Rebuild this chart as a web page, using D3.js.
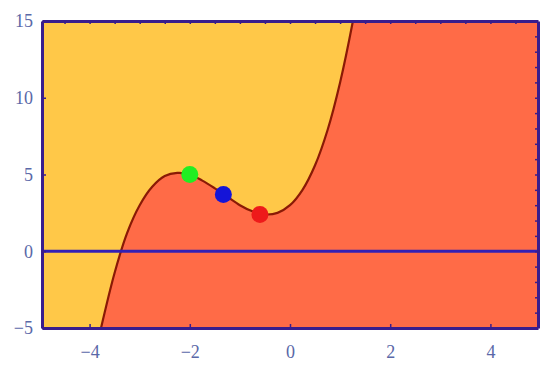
<!DOCTYPE html>
<html>
<head>
<meta charset="utf-8">
<script src="https://cdn.jsdelivr.net/npm/d3@7"></script>
<style>
  body { margin: 0; background: #fff; }
  .axis path, .axis line { stroke: #3a1d8c; }
</style>
</head>
<body>
<svg id="chart" width="541" height="368"></svg>
<script>
// curve samples
const curveX = [-3.8, -3.5, -3.25, -3, -2.75, -2.5, -2.25, -2, -1.75, -1.5, -1.25, -1, -0.75, -0.5, -0.25, 0, 0.25, 0.5, 0.75, 1, 1.25, 1.32];
const curveY = [-5.4, -1.4, 1.2, 3, 4.2, 4.9, 5.1, 5, 4.6, 4.1, 3.55, 3, 2.6, 2.4, 2.5, 3, 4, 5.6, 7.9, 11, 14.9, 16.2];

const dotX = [-2, -1.33, -0.6];
const dotY = [5, 3.7, 2.4];
const dotColor = ['#22ee22', '#1414d8', '#ee1a1a'];

const xTicks = [-4, -2, 0, 2, 4];
const yTicks = [-5, 0, 5, 10, 15];

const margin = { top: 21, right: 3, bottom: 40, left: 42 };
const W = 541, H = 368;
const svg = d3.select('#chart');

const x = d3.scaleLinear().domain([-4.95, 4.95]).range([margin.left, W - margin.right]);
const y = d3.scaleLinear().domain([-5, 15]).range([H - margin.bottom, margin.top]);

svg.append('clipPath').attr('id', 'plot')
  .append('rect')
  .attr('x', x.range()[0]).attr('y', y.range()[1])
  .attr('width', x.range()[1] - x.range()[0])
  .attr('height', y.range()[0] - y.range()[1]);

const g = svg.append('g').attr('clip-path', 'url(#plot)');

// above the curve
g.append('rect')
  .attr('x', x.range()[0]).attr('y', y.range()[1])
  .attr('width', x.range()[1] - x.range()[0])
  .attr('height', y.range()[0] - y.range()[1])
  .attr('fill', '#ffc848');

const pts = curveX.map((v, i) => [v, curveY[i]]);
const line = d3.line().x(d => x(d[0])).y(d => y(d[1])).curve(d3.curveCatmullRom);

// below / right of the curve
const last = pts[pts.length - 1], first = pts[0];
g.append('path')
  .attr('d', line(pts) +
    `L${x(5.5)},${y(last[1])}L${x(5.5)},${y(-6)}L${x(first[0])},${y(-6)}Z`)
  .attr('fill', '#ff6b47');

g.append('path')
  .attr('d', line(pts))
  .attr('fill', 'none')
  .attr('stroke', '#8a1a06')
  .attr('stroke-width', 2.2);

// zero line
g.append('line')
  .attr('x1', x.range()[0]).attr('x2', x.range()[1])
  .attr('y1', y(0)).attr('y2', y(0))
  .attr('stroke', '#3320b4').attr('stroke-width', 3);

g.selectAll('circle.dot')
  .data(dotX)
  .join('circle')
  .attr('class', 'dot')
  .attr('cx', d => x(d))
  .attr('cy', (d, i) => y(dotY[i]))
  .attr('r', 8.5)
  .attr('fill', (d, i) => dotColor[i]);

// frame with inward ticks
const xMinor = d3.range(-4.5, 5, 0.5);
const yMinor = d3.range(-4, 15, 1);
const fmt = d => d < 0 ? '\u2212' + Math.abs(d) : d;

svg.append('g').attr('class', 'axis').attr('transform', `translate(0,${y.range()[0]})`)
  .call(d3.axisBottom(x).tickValues(xTicks).tickSizeInner(-4).tickSizeOuter(0).tickPadding(17).tickFormat(fmt));
svg.append('g').attr('class', 'axis').attr('transform', `translate(${x.range()[0]},0)`)
  .call(d3.axisLeft(y).tickValues(yTicks).tickSizeInner(-4).tickSizeOuter(0).tickPadding(9).tickFormat(fmt));
svg.append('g').attr('class', 'axis').attr('transform', `translate(0,${y.range()[1]})`)
  .call(d3.axisTop(x).tickValues(xMinor).tickSizeInner(-3).tickSizeOuter(0).tickFormat(''));
svg.append('g').attr('class', 'axis').attr('transform', `translate(${x.range()[1]},0)`)
  .call(d3.axisRight(y).tickValues(yMinor).tickSizeInner(-3).tickSizeOuter(0).tickFormat(''));

svg.selectAll('.axis').attr('font-family', null).attr('font-size', null);
svg.selectAll('.axis text')
  .style('font-family', '"Liberation Serif", "DejaVu Serif", serif')
  .style('font-size', '18px')
  .style('fill', '#5a68a8');
svg.selectAll('.axis path.domain').attr('stroke-width', 3);
svg.selectAll('.axis .tick line').attr('stroke-width', 1.5);
</script>
</body>
</html>
